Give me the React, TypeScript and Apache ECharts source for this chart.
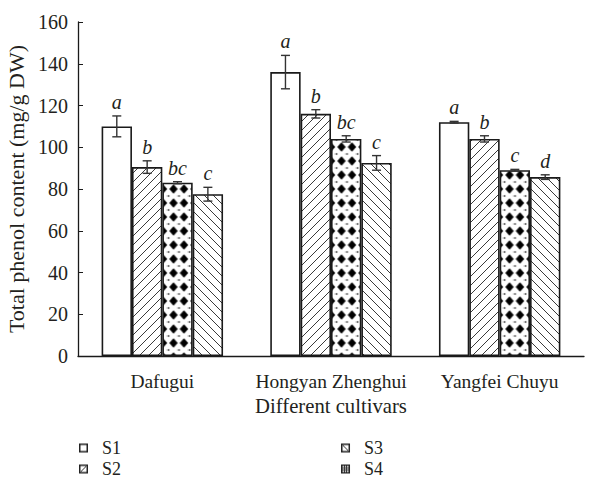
import React, { useEffect, useRef } from "react";
import * as echarts from "echarts";

const categories = ["Dafugui", "Hongyan Zhenghui", "Yangfei Chuyu"];
const seriesNames = ["S1", "S2", "S3", "S4"];
const s1Values = [110, 136, 112];
const s2Values = [90.5, 116, 104];
const s3Values = [83, 104, 89];
const s4Values = [77.5, 92.5, 85.7];
const s1Errors = [5, 8, 0.4];
const s2Errors = [3, 2, 1.5];
const s3Errors = [0.5, 1.5, 0.4];
const s4Errors = [3.3, 3.5, 1.1];
const s1Letters = ["a", "a", "a"];
const s2Letters = ["b", "b", "b"];
const s3Letters = ["bc", "bc", "c"];
const s4Letters = ["c", "c", "d"];
const yTicks = [0, 20, 40, 60, 80, 100, 120, 140, 160];

const allValues = [s1Values, s2Values, s3Values, s4Values];
const allErrors = [s1Errors, s2Errors, s3Errors, s4Errors];
const allLetters = [s1Letters, s2Letters, s3Letters, s4Letters];

const FONT = "'Liberation Serif', 'DejaVu Serif', serif";
const INK = "#231f20";
const BAR_FRAC = 0.18;

function makeCanvas(w: number, h: number, draw: (ctx: CanvasRenderingContext2D) => void) {
  const c = document.createElement("canvas");
  c.width = w;
  c.height = h;
  const ctx = c.getContext("2d") as CanvasRenderingContext2D;
  ctx.fillStyle = "#ffffff";
  ctx.fillRect(0, 0, w, h);
  draw(ctx);
  return c;
}

function hatch(size: number, forward: boolean) {
  return makeCanvas(size, size, (ctx) => {
    ctx.strokeStyle = "#3a3a3a";
    ctx.lineWidth = 1;
    ctx.beginPath();
    for (let k = -1; k <= 1; k++) {
      if (forward) {
        ctx.moveTo(k * size, size);
        ctx.lineTo(k * size + size, 0);
      } else {
        ctx.moveTo(k * size, 0);
        ctx.lineTo(k * size + size, size);
      }
    }
    ctx.stroke();
  });
}

function diamondTile() {
  const w = 10.5;
  const h = 14;
  return makeCanvas(w, h, (ctx) => {
    ctx.fillStyle = "#000";
    const dia = (cx: number, cy: number, rx: number, ry: number) => {
      ctx.beginPath();
      ctx.moveTo(cx, cy - ry);
      ctx.lineTo(cx + rx, cy);
      ctx.lineTo(cx, cy + ry);
      ctx.lineTo(cx - rx, cy);
      ctx.closePath();
      ctx.fill();
    };
    dia(5.25, 7, 4.2, 4.8);
    [[0, 0], [w, 0], [0, h], [w, h]].forEach(([x, y]) => dia(x, y, 1.3, 1.3));
  });
}

function legendIcon(kind: number) {
  const c = makeCanvas(9, 9, (ctx) => {
    ctx.strokeStyle = "#333";
    ctx.lineWidth = 1;
    if (kind === 1) {
      ctx.beginPath();
      ctx.moveTo(2, 7);
      ctx.lineTo(7, 2);
      ctx.stroke();
    } else if (kind === 2) {
      ctx.beginPath();
      ctx.moveTo(2, 2);
      ctx.lineTo(7, 7);
      ctx.stroke();
    } else if (kind === 3) {
      ctx.beginPath();
      ctx.moveTo(3.5, 1);
      ctx.lineTo(3.5, 8);
      ctx.moveTo(5.5, 1);
      ctx.lineTo(5.5, 8);
      ctx.moveTo(1, 3.5);
      ctx.lineTo(8, 3.5);
      ctx.moveTo(1, 5.5);
      ctx.lineTo(8, 5.5);
      ctx.stroke();
    }
    ctx.lineWidth = 1.5;
    ctx.strokeStyle = "#222";
    ctx.strokeRect(0.75, 0.75, 7.5, 7.5);
  });
  return "image://" + c.toDataURL();
}

export default function App() {
  const ref = useRef<HTMLDivElement>(null);
  useEffect(() => {
    if (!ref.current) return;
    const chart = echarts.init(ref.current, null, { renderer: "svg" });
    const fwd = hatch(9, true);
    const bwd = hatch(9, false);
    const dia = diamondTile();
    const fills: any[] = [
      "#ffffff",
      { image: fwd, repeat: "repeat", imageWidth: 9, imageHeight: 9 },
      { image: dia, repeat: "repeat", imageWidth: 10.5, imageHeight: 14 },
      { image: bwd, repeat: "repeat", imageWidth: 9, imageHeight: 9 },
    ];

    const barSeries = seriesNames.map((name, i) => ({
      name,
      type: "bar",
      data: allValues[i],
      barWidth: BAR_FRAC * 100 + "%",
      barGap: "0%",
      itemStyle: { color: fills[i], borderColor: "#1a1a1a", borderWidth: 1.6 },
      z: 2,
    }));

    const errSeries = seriesNames.map((name, i) => ({
      name: name + " error",
      type: "custom",
      z: 5,
      data: allValues[i].map((v, c) => [c, v, allErrors[i][c]]),
      encode: { x: 0, y: 1 },
      renderItem: (params: any, api: any) => {
        const c = api.value(0);
        const v = api.value(1);
        const e = api.value(2);
        const center = api.coord([c, v]);
        const band = api.size([1, 0])[0];
        const x = center[0] + (i - 1.5) * band * BAR_FRAC;
        const top = api.coord([c, v + e])[1];
        const bot = api.coord([c, v - e])[1];
        const cap = 4.5;
        const st = { stroke: "#333", lineWidth: 1.4 };
        return {
          type: "group",
          children: [
            { type: "line", shape: { x1: x, y1: top, x2: x, y2: bot }, style: st },
            { type: "line", shape: { x1: x - cap, y1: top, x2: x + cap, y2: top }, style: st },
            { type: "line", shape: { x1: x - cap, y1: bot, x2: x + cap, y2: bot }, style: st },
            {
              type: "text",
              x,
              y: top - 4,
              style: {
                text: allLetters[i][params.dataIndex],
                font: "italic 20px " + FONT,
                fill: INK,
                align: "center",
                verticalAlign: "bottom",
              },
            },
          ],
        };
      },
    }));

    const legendBase = {
      orient: "horizontal",
      left: 74,
      itemWidth: 9,
      itemHeight: 9,
      itemGap: 220,
      textStyle: { fontFamily: FONT, fontSize: 18, color: INK, padding: [0, 0, 0, 9] },
    };
    chart.setOption({
      animation: false,
      grid: { left: 78, right: 14, top: 22, bottom: 122, outerBoundsMode: "none", containLabel: false },
      legend: [
        {
          ...legendBase,
          top: 434,
          data: [
            { name: "S1", icon: legendIcon(0) },
            { name: "S3", icon: legendIcon(2) },
          ],
        },
        {
          ...legendBase,
          top: 455,
          data: [
            { name: "S2", icon: legendIcon(1) },
            { name: "S4", icon: legendIcon(3) },
          ],
        },
      ],
      xAxis: {
        type: "category",
        data: categories,
        name: "Different cultivars",
        nameLocation: "middle",
        nameGap: 39,
        nameTextStyle: { fontFamily: FONT, fontSize: 20.7, color: INK },
        axisLine: { lineStyle: { color: "#1a1a1a", width: 1.3 } },
        axisTick: { inside: true, length: 5, lineStyle: { color: "#1a1a1a" } },
        axisLabel: { fontFamily: FONT, fontSize: 19.5, color: INK, margin: 15, interval: 0 },
      },
      yAxis: {
        type: "value",
        min: yTicks[0],
        max: yTicks[yTicks.length - 1],
        interval: 20,
        name: "Total phenol content (mg/g DW)",
        nameLocation: "middle",
        nameGap: 46,
        nameTextStyle: { fontFamily: FONT, fontSize: 22, color: INK },
        axisLine: { show: true, lineStyle: { color: "#1a1a1a", width: 1.3 } },
        axisTick: { show: true, inside: true, length: 5, lineStyle: { color: "#1a1a1a" } },
        axisLabel: { fontFamily: FONT, fontSize: 20, color: INK, margin: 10 },
        splitLine: { show: false },
      },
      series: [...barSeries, ...errSeries],
    });
    return () => chart.dispose();
  }, []);
  return (
    <div
      ref={ref}
      style={{ position: "absolute", left: 0, top: 0, width: 598, height: 478 }}
    />
  );
}
